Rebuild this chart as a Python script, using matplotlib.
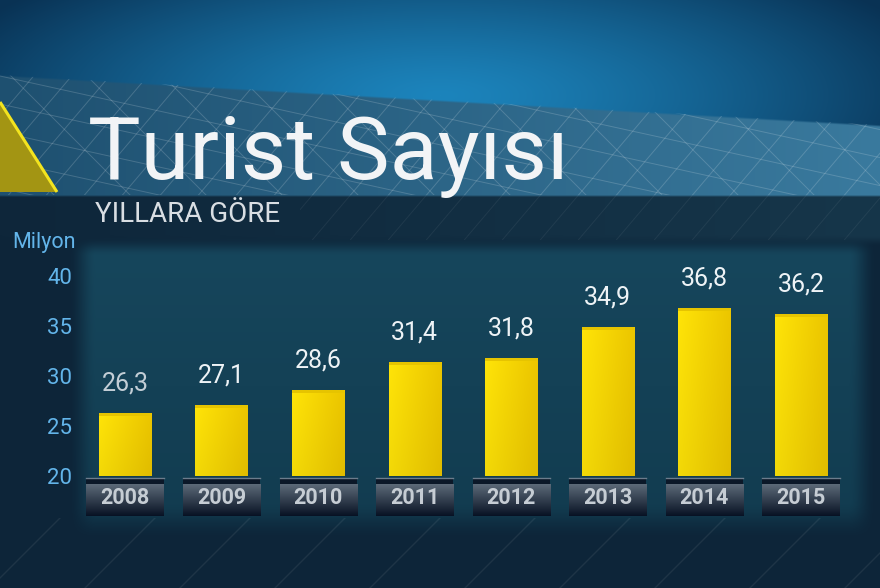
import numpy as np
import matplotlib
matplotlib.use("Agg")
import matplotlib.pyplot as plt
import matplotlib.transforms as mtransforms
from matplotlib.patches import Polygon, Rectangle
from matplotlib import font_manager

# ---------------- data ----------------
years = ["2008", "2009", "2010", "2011", "2012", "2013", "2014", "2015"]
tourists = [26.3, 27.1, 28.6, 31.4, 31.8, 34.9, 36.8, 36.2]   # milyon
yticks = [20, 25, 30, 35, 40]
title = "Turist Sayısı"
subtitle = "YILLARA GÖRE"
unit_label = "Milyon"

# ---------------- fonts ----------------
available = {f.name for f in font_manager.fontManager.ttflist}
def pick(*names):
    for n in names:
        if n in available:
            return n
    return "DejaVu Sans"
narrow = pick("Liberation Sans Narrow", "Roboto", "DejaVu Sans")
num_font = pick("Roboto", "Open Sans", "DejaVu Sans")
title_size = 73 if narrow == "Liberation Sans Narrow" else 63.5

W, H = 880, 588
fig = plt.figure(figsize=(W / 100, H / 100), dpi=100)

# ---------------- background ----------------
bg = fig.add_axes([0, 0, 1, 1], zorder=0)
bg.set_xlim(0, W)
bg.set_ylim(H, 0)
bg.axis("off")

yy, xx = np.mgrid[0:H, 0:W].astype(float)

def smooth(e0, e1, v):
    t = np.clip((v - e0) / (e1 - e0), 0, 1)
    return t * t * (3 - 2 * t)

def lerp(a, b, t):
    t = t[..., None]
    return a * (1 - t) + b * t

def col(r, g, b):
    return np.array([r, g, b], float) / 255.0

# sky
d = np.sqrt(((xx - 440) / 520) ** 2 + ((yy - 95) / 165) ** 2)
sky = lerp(col(28, 132, 188), col(9, 50, 84), np.clip(d, 0, 1) ** 1.3)
# band
ytop = 75 + 50 * xx / W
band = lerp(col(30, 80, 112), col(58, 122, 158), xx / W)
img = lerp(sky, band, smooth(ytop - 1, ytop + 2, yy))
# dark strip
strip = lerp(col(14, 38, 58), col(22, 54, 74), xx / W)
img = lerp(img, strip, smooth(194, 197, yy))
# lower base
base = np.broadcast_to(col(13, 37, 57), img.shape)
img = lerp(img, base, smooth(234, 246, yy))
# panel
pm = smooth(68, 96, xx) * (1 - smooth(848, 876, xx)) * smooth(236, 256, yy) * (1 - smooth(500, 540, yy))
panel = lerp(col(22, 70, 92), col(18, 60, 80), np.clip((yy - 250) / 270, 0, 1))
img = lerp(img, panel, pm)
bg.imshow(img, extent=(0, W, H, 0), aspect="auto", interpolation="bilinear", zorder=0)

# grid lines in the band (and fainter in the strip)
band_poly = Polygon([(0, 75), (W, 125), (W, 195), (0, 195)], closed=True,
                    transform=bg.transData, facecolor="none", edgecolor="none")
strip_poly = Polygon([(300, 195), (W, 195), (W, 240), (300, 240)], closed=True,
                     transform=bg.transData, facecolor="none", edgecolor="none")
bg.add_patch(band_poly)
bg.add_patch(strip_poly)
lines = []
for c in np.arange(-300, W + 300, 38):
    lines.append(([c, c + 0.85 * 200], [245, 45]))
for c in np.arange(-200, W + 300, 76):
    lines.append(([c, c - 1.0 * 200], [245, 45]))
for c in np.arange(-400, 400, 28):
    lines.append(([0, W], [c, c + 0.22 * W]))
for lx, ly in lines:
    ln, = bg.plot(lx, ly, color="white", alpha=0.17, lw=0.7, zorder=1)
    ln.set_clip_path(band_poly)
for c in np.arange(-300, W + 300, 38):
    ln, = bg.plot([c, c + 0.85 * 200], [245, 45], color="white", alpha=0.06, lw=0.7, zorder=1)
    ln.set_clip_path(strip_poly)

# faint diagonal lines at the bottom
low_poly = Polygon([(0, 518), (W, 518), (W, H), (0, H)], closed=True,
                   transform=bg.transData, facecolor="none", edgecolor="none")
bg.add_patch(low_poly)
for c in np.arange(-200, W + 200, 95):
    ln, = bg.plot([c, c + 200], [H, H - 200], color="white", alpha=0.07, lw=1.0, zorder=1)
    ln.set_clip_path(low_poly)

# yellow triangle
bg.add_patch(Polygon([(0, 102), (57, 192), (0, 192)], closed=True,
                     facecolor="#a39513", edgecolor="none", zorder=2))
bg.plot([0, 57], [102, 192], color="#f3e41f", lw=2.2, zorder=3, solid_capstyle="butt")

# ---------------- titles ----------------
fig.text(88 / W, 1 - 179 / H, title, fontsize=title_size, color="#f2f4f6",
         family=[narrow, "DejaVu Sans"], va="baseline", ha="left", zorder=5)
fig.text(95 / W, 1 - 222 / H, subtitle, fontsize=20, color="#d9dee3",
         family=[narrow, "DejaVu Sans"], va="baseline", ha="left", zorder=5)
fig.text(12 / W, 1 - 248 / H, unit_label, fontsize=15.5, color="#63b5ea",
         family=[num_font, "DejaVu Sans"], va="baseline", ha="left", zorder=5)

# ---------------- data axes ----------------
ax_left, ax_right, ax_top, ax_bottom = 80, 860, 245, 476
ax = fig.add_axes([ax_left / W, 1 - ax_bottom / H, (ax_right - ax_left) / W,
                   (ax_bottom - ax_top) / H], zorder=2)
ax.set_facecolor("none")
for s in ax.spines.values():
    s.set_visible(False)

x = np.arange(len(years))
bar_w = 0.54
bottom = yticks[0]
bars = ax.bar(x, np.array(tourists) - bottom, bottom=bottom, width=bar_w,
              color="#f3d300", edgecolor="none", zorder=2)

# gradient fill of bars
gh = np.linspace(0, 1, 40)[None, :]
gv = np.linspace(0, 1, 80)[:, None]
grad = (col(255, 228, 8) * (1 - gh[..., None]) + col(236, 198, 0) * gh[..., None]) * \
       (1 - 0.05 * gv[..., None])
grad = np.broadcast_to(grad, (80, 40, 3))
for r in bars:
    x0, y0, w, h = r.get_x(), r.get_y(), r.get_width(), r.get_height()
    im = ax.imshow(grad, extent=(x0, x0 + w, y0, y0 + h), aspect="auto",
                   interpolation="bilinear", zorder=3)
    im.set_clip_path(r)
    # top bevel
    ax.add_patch(Rectangle((x0, y0 + h - 0.25), w, 0.25, facecolor="#e6c400",
                           edgecolor="none", zorder=4))

# value labels
label_colors = ["#c3ced6"] + ["#eef3f6"] * (len(years) - 1)
for xi, v, c in zip(x, tourists, label_colors):
    ax.annotate(f"{v:.1f}".replace(".", ","), (xi, v), xytext=(0, 16.5),
                textcoords="offset points", ha="center", va="baseline",
                fontsize=18, color=c, family=[num_font, "DejaVu Sans"], zorder=5)

# year boxes below axis
trans = mtransforms.blended_transform_factory(ax.transData, ax.transAxes)
ah = ax_bottom - ax_top
def fy(px):
    return (ax_bottom - px) / ah
body = np.linspace(0, 1, 60)[:, None, None]
box_grad = col(92, 106, 120) * (1 - body) + col(8, 18, 36) * body
box_grad = np.broadcast_to(box_grad, (60, 10, 3))
box_half = 0.40
for xi, yr in zip(x, years):
    im = ax.imshow(box_grad, extent=(xi - box_half, xi + box_half, fy(516), fy(484)),
                   aspect="auto", interpolation="bilinear", transform=trans, zorder=3)
    im.set_clip_on(False)
    ax.add_patch(Rectangle((xi - box_half, fy(484)), 2 * box_half, fy(478) - fy(484),
                           transform=trans, facecolor="#0b1828", edgecolor="none",
                           clip_on=False, zorder=4))
    ax.plot([xi - box_half, xi + box_half], [fy(478), fy(478)], transform=trans,
            color="#6c7c8c", lw=1.0, clip_on=False, zorder=5)
    ax.text(xi, fy(497.5), yr, transform=trans, ha="center", va="center",
            fontsize=15.5, fontweight="bold", color="#c6cdd4",
            family=[num_font, "DejaVu Sans"], zorder=6, clip_on=False)

ax.set_xlim((ax_left - 125) / 96.57, (ax_right - 125) / 96.57)
ax.set_ylim(bottom, bottom + ah / 10.0)
ax.set_xticks([])
ax.set_yticks(yticks)
ax.set_yticklabels([str(t) for t in yticks])
ax.tick_params(axis="y", length=0, pad=5.8, labelcolor="#63b5ea", labelsize=16)
for t in ax.get_yticklabels():
    t.set_family([num_font, "DejaVu Sans"])

fig.savefig("out.png", dpi=100)
